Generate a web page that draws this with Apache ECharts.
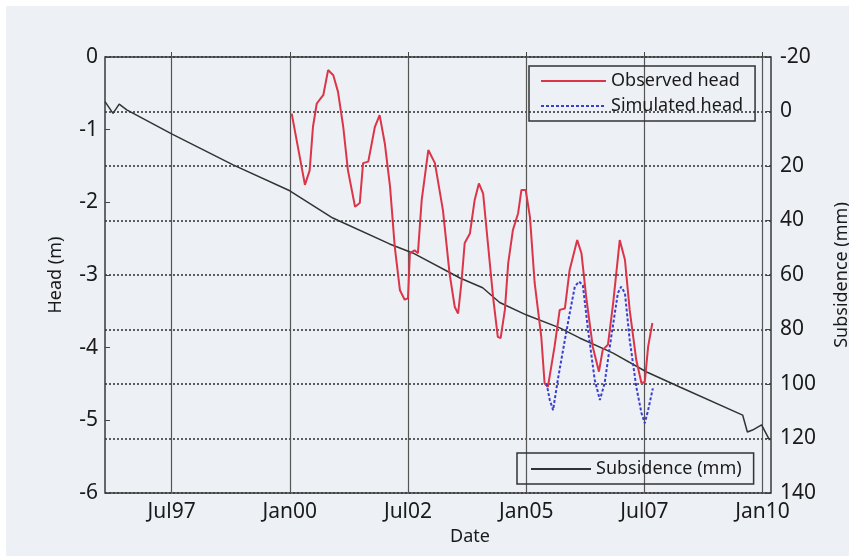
<!DOCTYPE html>
<html>
<head>
<meta charset="utf-8">
<script src="https://cdn.jsdelivr.net/npm/echarts@6/dist/echarts.min.js"></script>
<style>
  html, body { margin: 0; padding: 0; background: #fff; }
  #chart { width: 849px; height: 556px; background: #edf0f4; box-shadow: inset 6px 6px 0 #fff; }
</style>
</head>
<body>
<div id="chart"></div>
<script>
// date axis in decimal years
const dateTicks = [1997.5, 2000, 2002.5, 2005, 2007.5, 2010];
const dateLabels = ['Jul97', 'Jan00', 'Jul02', 'Jan05', 'Jul07', 'Jan10'];

// observed head (m)
const obsYears = [2000.04, 2000.32, 2000.42, 2000.49, 2000.57, 2000.71, 2000.81, 2000.92, 2001.02, 2001.13,
  2001.23, 2001.38, 2001.48, 2001.55, 2001.66, 2001.80, 2001.90, 2002.01, 2002.12, 2002.22,
  2002.33, 2002.43, 2002.50, 2002.54, 2002.64, 2002.71, 2002.79, 2002.93, 2003.07, 2003.24,
  2003.38, 2003.49, 2003.56, 2003.63, 2003.70, 2003.81, 2003.91, 2004.00, 2004.09, 2004.19,
  2004.30, 2004.40, 2004.46, 2004.55, 2004.62, 2004.72, 2004.83, 2004.90, 2004.99, 2005.08,
  2005.18, 2005.32, 2005.39, 2005.46, 2005.60, 2005.71, 2005.82, 2005.92, 2006.08, 2006.17,
  2006.27, 2006.41, 2006.54, 2006.62, 2006.73, 2006.84, 2006.98, 2007.09, 2007.19, 2007.33,
  2007.44, 2007.51, 2007.58, 2007.67];
const obsHead = [-0.78, -1.76, -1.56, -0.96, -0.64, -0.52, -0.18, -0.25, -0.48, -0.96,
  -1.56, -2.06, -2.01, -1.46, -1.44, -0.96, -0.80, -1.19, -1.78, -2.61,
  -3.21, -3.34, -3.32, -2.70, -2.66, -2.70, -1.97, -1.28, -1.46, -2.11,
  -2.98, -3.44, -3.53, -3.11, -2.56, -2.43, -1.97, -1.74, -1.88, -2.56,
  -3.30, -3.85, -3.87, -3.48, -2.84, -2.38, -2.15, -1.83, -1.83, -2.20,
  -3.11, -3.85, -4.49, -4.54, -3.99, -3.48, -3.46, -2.93, -2.52, -2.70,
  -3.30, -3.99, -4.33, -4.03, -3.96, -3.39, -2.52, -2.79, -3.48, -4.17,
  -4.49, -4.47, -3.99, -3.66];

// simulated head (m)
const simYears = [2005.43, 2005.50, 2005.57, 2005.67, 2005.82, 2005.92, 2006.03, 2006.12, 2006.20, 2006.31,
  2006.45, 2006.56, 2006.66, 2006.80, 2006.94, 2007.01, 2007.09, 2007.19, 2007.33, 2007.44,
  2007.51, 2007.58, 2007.68];
const simHead = [-4.49, -4.72, -4.86, -4.44, -3.89, -3.53, -3.16, -3.09, -3.14, -3.76,
  -4.44, -4.72, -4.49, -3.85, -3.25, -3.16, -3.25, -3.89, -4.54, -4.90,
  -5.04, -4.86, -4.56];

// subsidence (mm)
const subYears = [1996.09, 1996.11, 1996.26, 1996.39, 1996.55, 1997.51, 1998.80, 2000.00, 2000.91, 2002.11,
  2002.60, 2003.60, 2004.08, 2004.44, 2005.01, 2005.71, 2006.13, 2006.83, 2007.55, 2008.25,
  2009.58, 2009.68, 2009.79, 2009.98, 2010.15];
const subMm = [-3.6, -3.6, 0.7, -2.7, -0.6, 8.3, 19.6, 29.1, 39.1, 48.6,
  51.9, 61.1, 64.7, 70.1, 74.7, 79.4, 83.1, 88.6, 95.6, 101.1,
  111.4, 117.6, 116.9, 115.0, 120.6];

const zip = (xs, ys) => xs.map((x, i) => [x, ys[i]]);
const font = 'Noto Sans';
const ink = '#1a1a1a';

const chart = echarts.init(document.getElementById('chart'));
chart.setOption({
  backgroundColor: 'transparent',
  animation: false,
  textStyle: { fontFamily: font },
  grid: {
    left: 105, right: 78, top: 57, bottom: 63,
    show: true, borderColor: '#3a3a3a', borderWidth: 1.5,
    outerBoundsMode: 'none'
  },
  legend: [
    {
      data: ['Observed head', 'Simulated head'],
      orient: 'vertical', left: 529, top: 66,
      padding: [6, 12, 6, 11],
      itemWidth: 65, itemHeight: 14, itemGap: 7,
      itemStyle: { opacity: 0, borderWidth: 0 },
      borderColor: '#333', borderWidth: 1.5,
      textStyle: { fontFamily: font, fontSize: 18, color: ink }
    },
    {
      data: ['Subsidence (mm)'],
      left: 517, top: 453,
      padding: [7, 12, 6, 13],
      itemWidth: 60, itemHeight: 14,
      itemStyle: { opacity: 0, borderWidth: 0 },
      borderColor: '#333', borderWidth: 1.5,
      textStyle: { fontFamily: font, fontSize: 18, color: ink }
    }
  ],
  xAxis: {
    type: 'value', min: 1996.09, max: 2010.18,
    name: 'Date', nameLocation: 'middle', nameGap: 35, nameMoveOverlap: false,
    nameTextStyle: { fontFamily: font, fontSize: 18, color: ink, padding: [0, 0, 0, 64] },
    axisLine: { show: false },
    axisTick: { customValues: dateTicks, inside: true, length: 5, lineStyle: { color: '#444' } },
    axisLabel: {
      customValues: dateTicks, margin: 9,
      fontFamily: font, fontSize: 21, color: ink,
      formatter: v => {
        const i = dateTicks.findIndex(t => Math.abs(t - v) < 1e-6);
        return i >= 0 ? dateLabels[i] : '';
      }
    },
    splitLine: { show: true, lineStyle: { color: '#555', width: 1.2, type: 'solid' } }
  },
  yAxis: [
    {
      type: 'value', min: -6, max: 0, interval: 1,
      name: 'Head (m)', nameLocation: 'middle', nameGap: 40, nameMoveOverlap: false,
      nameTextStyle: { fontFamily: font, fontSize: 18, color: ink },
      axisLine: { show: false },
      axisTick: { show: true, inside: true, length: 5, lineStyle: { color: '#444' } },
      axisLabel: { margin: 7, fontFamily: font, fontSize: 21, color: ink },
      splitLine: { show: false }
    },
    {
      type: 'value', min: -20, max: 140, interval: 20, inverse: true, position: 'right',
      name: 'Subsidence (mm)', nameLocation: 'middle', nameGap: 62, nameMoveOverlap: false,
      nameTextStyle: { fontFamily: font, fontSize: 18, color: ink },
      axisLine: { show: false },
      axisTick: { show: true, inside: true, length: 5, lineStyle: { color: '#444' } },
      axisLabel: { margin: 9, fontFamily: font, fontSize: 21, color: ink },
      splitLine: { show: true, lineStyle: { color: '#3a3a3a', width: 1.6, type: [2, 2] } }
    }
  ],
  series: [
    {
      name: 'Subsidence (mm)', type: 'line', yAxisIndex: 1,
      data: zip(subYears, subMm), symbol: 'none',
      lineStyle: { color: '#333', width: 1.5 }, itemStyle: { color: '#333' }
    },
    {
      name: 'Observed head', type: 'line', yAxisIndex: 0,
      data: zip(obsYears, obsHead), symbol: 'none',
      lineStyle: { color: '#db3549', width: 2 }, itemStyle: { color: '#db3549' }
    },
    {
      name: 'Simulated head', type: 'line', yAxisIndex: 0,
      data: zip(simYears, simHead), symbol: 'none',
      lineStyle: { color: '#3a3fcf', width: 2, type: [3, 2] }, itemStyle: { color: '#3a3fcf' }
    }
  ]
});
</script>
</body>
</html>
